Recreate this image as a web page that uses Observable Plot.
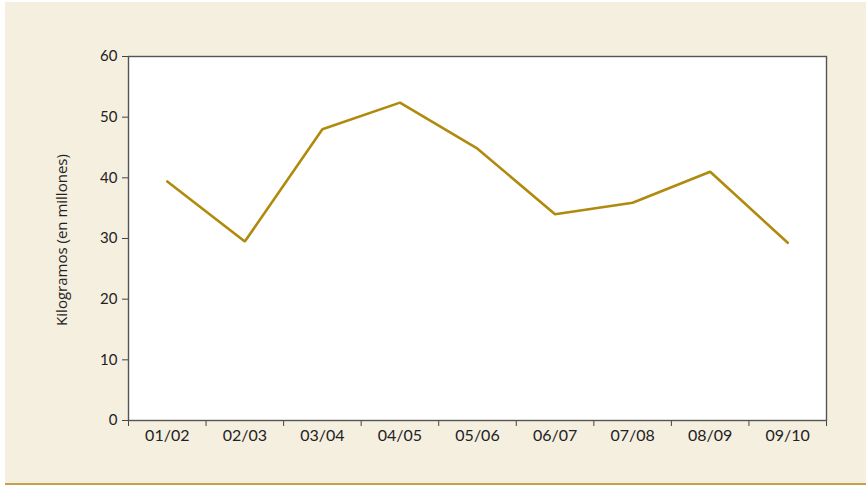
<!DOCTYPE html>
<html>
<head>
<meta charset="utf-8">
<script src="https://cdn.jsdelivr.net/npm/d3@7"></script>
<script src="https://cdn.jsdelivr.net/npm/@observablehq/plot@0.6"></script>
<style>
  html, body { margin: 0; padding: 0; background: #ffffff; }
  #wrap { position: relative; width: 866px; height: 486px; background: #ffffff; overflow: hidden; }
  #bg { position: absolute; left: 5px; top: 2px; width: 861px; height: 481px; background: #f5efe0; border-bottom: 2px solid #c4a24a; }
  #chart { position: absolute; left: 0; top: 0; }
</style>
</head>
<body>
<div id="wrap"><div id="bg"></div><div id="chart"></div></div>
<script>
const seasons = ["01/02", "02/03", "03/04", "04/05", "05/06", "06/07", "07/08", "08/09", "09/10"];
const kilos = [39.4, 29.5, 48.0, 52.4, 44.8, 34.0, 35.9, 41.0, 29.3];
const yTicks = [0, 10, 20, 30, 40, 50, 60];
const yLabel = "Kilogramos (en millones)";

const data = seasons.map((s, i) => ({i, season: s, value: kilos[i]}));
const boundaries = d3.range(seasons.length + 1).map(i => i - 0.5);

const chart = Plot.plot({
  width: 866,
  height: 486,
  marginLeft: 128,
  marginRight: 40,
  marginTop: 56,
  marginBottom: 66,
  style: {background: "transparent", fontFamily: "Lato, sans-serif", color: "#222"},
  x: {type: "linear", domain: [-0.5, seasons.length - 0.5]},
  y: {domain: [0, 60]},
  marks: [
    Plot.frame({fill: "white", stroke: null}),
    Plot.axisY({ticks: yTicks, tickSize: 6, tickPadding: 5, stroke: "#444", fontSize: 15, label: null}),
    Plot.axisX({ticks: boundaries, tickSize: 6, tickFormat: () => "", stroke: "#444", label: null}),
    Plot.axisX({ticks: d3.range(seasons.length), tickSize: 0, tickPadding: 9, tickFormat: i => seasons[i], fontSize: 16, label: null}),
    Plot.line(data, {x: "i", y: "value", stroke: "#b08a0c", strokeWidth: 2.6, strokeLinejoin: "miter"}),
    Plot.frame({stroke: "#555", strokeWidth: 1.4})
  ]
});

document.getElementById("chart").appendChild(chart);

const svg = d3.select(chart);
svg.append("text")
  .attr("transform", "translate(67,240) rotate(-90)")
  .attr("text-anchor", "middle")
  .style("font-family", "'Open Sans', sans-serif")
  .style("font-size", "15px")
  .attr("fill", "#222")
  .text(yLabel);
</script>
</body>
</html>
